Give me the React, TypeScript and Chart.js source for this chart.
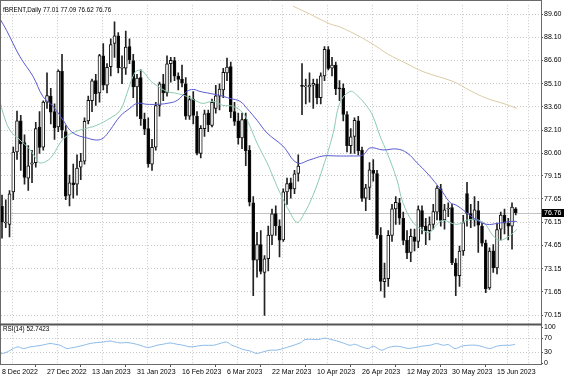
import React, { useEffect, useRef } from "react";
import { Chart, registerables } from "chart.js";
Chart.register(...registerables);

const symbolTitle = "fBRENT,Daily";
const rsiTitle = "RSI(14) 52.7423";

const dateLabels = ["8 Dec 2022", "27 Dec 2022", "13 Jan 2023", "31 Jan 2023", "16 Feb 2023", "6 Mar 2023", "22 Mar 2023", "10 Apr 2023", "26 Apr 2023", "12 May 2023", "30 May 2023", "15 Jun 2023"];
const dateLabelIdx = [0, 12, 24, 36, 48, 60, 72, 84, 96, 108, 120, 132];
const gridIdx = [5.6, 17.6, 29.6, 41.6, 53.6, 65.6, 77.6, 89.6, 101.6, 113.6, 125.6, 137.6];

const priceTicks = [89.6, 88.1, 86.6, 85.1, 83.6, 82.1, 80.6, 79.15, 77.65, 76.15, 74.65, 73.15, 71.65, 70.15];
const rsiTicks = [100, 70, 30, 0];

const opens = [77.17, 76.1, 76.0, 78.1, 80.7, 82.7, 81.3, 79.0, 79.9, 80.0, 82.3, 81.0, 83.9, 84.3, 83.3, 82.3, 85.9, 82.0, 77.9, 78.7, 78.6, 79.7, 80.1, 82.7, 84.0, 85.3, 84.5, 86.9, 85.0, 86.2, 87.7, 88.2, 86.1, 86.1, 87.5, 86.6, 84.9, 85.5, 82.8, 82.2, 79.9, 81.0, 83.7, 85.1, 84.5, 86.4, 86.6, 85.6, 85.4, 85.1, 83.0, 84.1, 83.0, 80.6, 82.2, 83.2, 82.4, 83.5, 84.3, 84.7, 85.8, 86.2, 83.3, 82.7, 81.6, 82.8, 80.8, 77.4, 73.7, 74.7, 72.9, 73.8, 75.3, 76.7, 75.9, 75.0, 78.1, 78.7, 78.3, 79.3, 85.0, 84.9, 84.9, 85.0, 85.1, 84.2, 85.6, 87.3, 86.1, 86.3, 84.8, 84.8, 83.1, 81.1, 81.7, 82.7, 80.8, 77.7, 78.4, 79.5, 79.3, 75.3, 72.3, 72.5, 75.3, 77.0, 77.4, 76.4, 75.0, 74.2, 75.2, 74.9, 76.9, 75.9, 75.6, 76.0, 76.8, 78.3, 76.3, 77.0, 77.1, 73.5, 72.7, 74.3, 78.0, 76.7, 76.3, 76.9, 75.9, 74.8, 71.9, 74.3, 73.2, 75.7, 76.6, 76.1, 75.9, 77.01];
const highs = [77.9, 77.6, 78.2, 81.0, 83.33, 83.05, 81.8, 81.1, 80.8, 82.6, 83.3, 84.0, 85.8, 84.8, 83.8, 86.0, 87.0, 82.4, 79.2, 79.9, 80.5, 80.6, 82.9, 84.3, 85.4, 85.7, 87.0, 87.7, 86.4, 88.0, 89.1, 88.4, 86.9, 88.5, 88.0, 87.0, 85.7, 86.0, 83.2, 82.9, 81.5, 83.9, 85.2, 85.7, 86.9, 86.8, 86.8, 85.8, 86.3, 85.5, 84.3, 84.6, 83.3, 82.4, 83.4, 83.4, 84.1, 85.0, 85.1, 86.1, 86.75, 86.5, 83.9, 83.2, 83.2, 83.2, 81.1, 77.8, 75.5, 75.6, 74.0, 75.9, 77.0, 77.2, 76.3, 78.3, 79.0, 79.0, 79.5, 80.5, 86.4, 85.4, 85.8, 85.4, 85.4, 85.8, 87.5, 87.5, 86.8, 86.5, 85.3, 85.1, 83.3, 82.2, 82.9, 83.0, 81.0, 78.6, 80.0, 80.2, 79.5, 75.8, 73.5, 75.6, 77.3, 77.8, 77.7, 76.8, 75.6, 75.7, 75.7, 77.2, 77.2, 76.4, 76.5, 77.3, 78.5, 78.6, 77.3, 77.4, 77.3, 73.8, 74.6, 76.6, 78.73, 77.3, 77.8, 77.5, 76.1, 75.0, 74.5, 74.7, 76.1, 76.8, 77.0, 76.4, 77.4, 77.09];
const lows = [75.11, 75.8, 75.2, 77.6, 80.2, 79.5, 78.6, 78.2, 78.7, 79.7, 80.6, 80.8, 83.5, 82.5, 81.5, 82.0, 81.6, 77.6, 77.2, 77.7, 77.9, 78.9, 79.9, 82.5, 83.3, 83.7, 83.9, 84.7, 84.5, 85.6, 86.8, 85.8, 85.1, 85.7, 86.4, 84.2, 83.0, 82.4, 81.8, 79.7, 79.5, 80.8, 83.0, 84.0, 84.3, 85.2, 85.3, 84.7, 84.9, 82.8, 82.8, 82.5, 80.5, 80.3, 81.7, 82.0, 82.3, 83.2, 83.4, 84.2, 85.3, 82.9, 82.4, 81.2, 80.9, 79.8, 77.2, 71.4, 72.6, 72.8, 70.12, 73.0, 74.7, 75.3, 73.9, 74.9, 77.3, 77.7, 78.0, 78.8, 83.1, 83.8, 83.9, 83.5, 83.8, 83.8, 85.3, 86.0, 85.6, 84.4, 84.0, 82.7, 80.7, 80.6, 80.6, 80.5, 77.5, 76.9, 77.6, 78.8, 75.1, 71.7, 71.28, 72.0, 74.9, 76.0, 76.0, 74.7, 73.8, 73.6, 74.3, 74.5, 75.4, 74.7, 75.0, 75.7, 76.3, 75.9, 75.7, 76.5, 73.4, 71.4, 72.0, 74.0, 75.9, 75.8, 75.9, 74.2, 74.6, 71.6, 71.8, 72.9, 72.8, 75.0, 75.4, 75.0, 74.4, 76.62];
const closes = [76.15, 76.1, 77.99, 80.68, 82.7, 81.21, 79.04, 79.8, 79.99, 82.2, 80.98, 83.92, 84.33, 83.26, 82.26, 85.91, 82.1, 77.84, 78.69, 78.57, 79.65, 80.1, 82.67, 84.03, 85.28, 84.46, 86.92, 85.0, 86.16, 87.63, 88.19, 86.13, 86.12, 87.47, 86.66, 84.9, 85.46, 82.84, 82.17, 79.94, 80.99, 83.69, 85.09, 84.5, 86.39, 86.61, 85.58, 85.38, 85.14, 83.0, 84.07, 83.05, 80.6, 82.21, 83.16, 82.45, 83.89, 84.31, 84.75, 85.83, 86.18, 83.29, 82.66, 81.59, 82.78, 80.77, 77.45, 73.69, 74.7, 72.97, 73.79, 75.32, 76.69, 75.91, 74.99, 78.12, 78.65, 78.28, 79.27, 79.77, 84.93, 84.94, 84.99, 85.12, 84.18, 85.61, 87.33, 86.09, 86.31, 84.76, 84.77, 83.12, 81.1, 81.66, 82.73, 80.77, 77.69, 78.37, 79.54, 79.31, 75.32, 72.33, 72.5, 75.3, 77.01, 77.44, 76.41, 74.98, 74.17, 75.23, 74.91, 76.96, 75.86, 75.58, 75.99, 76.84, 78.36, 76.26, 76.95, 77.07, 73.54, 72.66, 74.28, 76.13, 76.71, 76.29, 76.95, 75.96, 74.79, 71.84, 74.29, 73.2, 75.67, 76.61, 76.09, 75.9, 77.12, 76.76];

// moving averages and RSI (bar index, value)
const maFastIdx = [-0.5, 0.3, 2.1, 4.8, 7.5, 9.3, 10.1, 12, 13.6, 15.5, 17.3, 20, 22.7, 25.3, 28.8, 31.5, 33.3, 34.9, 36, 37.6, 39.5, 41.3, 44, 46.7, 49.3, 52, 53.6, 56.3, 58.9, 61.6, 64.3, 66.1, 68, 70.7, 71.5, 74.1, 76.8, 78.7, 80.3, 82.9, 85.6, 88.3, 90.1, 92.8, 94.7, 97.3, 98.9, 100.8, 102.7, 105.3, 106.9, 109.6, 112.3, 114.1, 116, 117.6, 121.3, 124.8, 128.3, 130.9, 132.7, 135.5, 137.3];
const maFastVal = [83.96, 83.19, 82.1, 81.46, 80.82, 80.18, 79.98, 80.11, 80.5, 81.27, 81.72, 82.04, 82.23, 82.42, 82.87, 83.38, 84.47, 85.56, 85.95, 85.88, 85.31, 84.98, 84.6, 84.47, 84.28, 83.96, 83.83, 83.96, 83.7, 83.64, 83.19, 82.36, 81.27, 79.98, 79.54, 78.06, 76.78, 76.14, 76.59, 77.87, 79.7, 81.9, 83.85, 84.6, 84.34, 83.64, 83.0, 81.72, 80.63, 78.9, 77.42, 76.14, 75.63, 75.5, 76.01, 76.27, 76.01, 76.33, 76.14, 75.3, 74.98, 75.3, 75.69];
const maMidIdx = [-0.5, 1.25, 4.8, 8.3, 10.9, 13.6, 16.3, 18.1, 20, 22.7, 25.3, 27, 28.8, 31.5, 34.1, 36, 38.7, 41.3, 44, 46.7, 49.3, 51, 52.8, 55.5, 58.1, 60.8, 63.5, 65.3, 68, 70.7, 74.9, 78.7, 82.1, 85.6, 89.3, 92.8, 96.3, 98.1, 101.6, 105.3, 108, 110.7, 113.3, 116, 117.6, 119.5, 121.3, 124.8, 126.7, 129.3, 132, 135.5, 137.3];
const maMidVal = [89.28, 88.53, 86.84, 85.56, 84.28, 83.64, 82.74, 82.1, 81.78, 81.59, 81.46, 81.59, 82.1, 83.0, 83.51, 83.83, 83.77, 83.77, 83.83, 84.02, 84.6, 84.73, 84.6, 84.47, 84.34, 84.15, 83.96, 83.51, 82.74, 81.91, 81.07, 79.98, 80.18, 80.43, 80.43, 80.43, 80.5, 80.95, 80.82, 80.88, 80.63, 79.98, 79.34, 78.57, 78.06, 77.42, 77.23, 76.59, 76.27, 76.01, 76.07, 76.2, 76.2];
const maSlowIdx = [77.6, 82.1, 87.5, 90.1, 95.5, 100, 102.7, 108, 112.3, 120.3, 124.8, 129.3, 133.6, 137.3];
const maSlowVal = [90.11, 89.6, 88.96, 88.77, 88.13, 87.48, 87.04, 86.39, 85.88, 85.24, 84.66, 84.15, 83.83, 83.51];
const rsiIdx = [-0.5, 1.3, 3, 4.3, 5.7, 7.5, 9.3, 11, 12.8, 14.1, 15.5, 17.3, 18.6, 19.9, 21.7, 23.5, 25.3, 27, 28.8, 30.1, 31.5, 33.3, 35, 36.8, 38.6, 39.9, 41.3, 43, 44.8, 46.6, 48.3, 50.1, 51.9, 53.7, 56.4, 58.1, 59.9, 61.3, 62.6, 64.3, 66.1, 67.9, 69.7, 71.5, 73.3, 75, 76.8, 79.5, 80.8, 82.6, 84.4, 86.1, 87.5, 89.3, 91, 92.8, 94.1, 95.9, 97.7, 99, 101.2, 103, 104.8, 106.6, 108.3, 110.1, 111.9, 114.1, 115.9, 117.7, 119, 120.8, 122.6, 124.3, 126.6, 128.3, 130.1, 131.9, 133.7, 135.5, 136.8];
const rsiVal = [25.5, 31, 41, 45.5, 41, 45.5, 48, 51, 55, 53, 50, 41, 43, 45.5, 50, 55, 57.5, 59, 62, 59, 56.5, 57.5, 55, 50, 44, 45.5, 50, 53, 56.5, 53, 50, 45.5, 47.5, 50, 50, 55, 59, 50, 45.5, 38, 34.5, 27.4, 32, 36.5, 36.5, 41, 47, 56.4, 65.7, 66.6, 65.7, 70.1, 66.6, 62, 56.4, 50, 52.9, 45.5, 41, 47.4, 36.4, 43.8, 47.4, 45.5, 41, 43.8, 47.4, 50, 54.8, 50, 52, 41, 47.4, 50, 50, 45.5, 41, 47.4, 50, 50, 52.9];

const FONT = "Liberation Sans";
const FS = 7;
const TITLE_FS = 6.3;

const pts = (xs: number[], ys: number[]) => xs.map((x, i) => ({ x, y: ys[i] }));

export default function App() {
  const ref = useRef<HTMLCanvasElement>(null);
  useEffect(() => {
    const canvas = ref.current!;
    const n = closes.length;
    const last = n - 1;
    const bars = closes.map((_, i) => i);

    const framePlugin = {
      id: "frame",
      beforeDatasetsDraw(chart: any) {
        const { ctx, chartArea, scales } = chart;
        const yb = Math.round(scales.y.getPixelForValue(closes[last])) + 0.5;
        ctx.save();
        ctx.strokeStyle = "#c4c4c4";
        ctx.lineWidth = 1;
        ctx.beginPath();
        ctx.moveTo(chartArea.left, yb);
        ctx.lineTo(chartArea.right, yb);
        ctx.stroke();
        ctx.restore();
      },
      afterDraw(chart: any) {
        const { ctx, chartArea, scales } = chart;
        const { left, right, top, bottom } = chartArea;
        const sep = scales.y.bottom;
        ctx.save();
        ctx.strokeStyle = "#6a6a6a";
        ctx.lineWidth = 1;
        ctx.beginPath();
        ctx.moveTo(0.5, 0);
        ctx.lineTo(0.5, bottom);
        ctx.moveTo(0, 0.5);
        ctx.lineTo(right, 0.5);
        ctx.moveTo(right + 0.5, 0);
        ctx.lineTo(right + 0.5, bottom + 1);
        ctx.moveTo(0, bottom + 0.5);
        ctx.lineTo(right, bottom + 0.5);
        ctx.stroke();
        ctx.lineWidth = 2;
        ctx.strokeStyle = "#555";
        ctx.beginPath();
        ctx.moveTo(0, sep);
        ctx.lineTo(right + 1, sep);
        ctx.stroke();
        // titles
        ctx.fillStyle = "#000";
        ctx.font = `${TITLE_FS}px "${FONT}"`;
        ctx.textBaseline = "top";
        ctx.textAlign = "left";
        const ohlc = [opens[last], highs[last], lows[last], closes[last]].map((v) => v.toFixed(2)).join(" ");
        ctx.fillText(`${symbolTitle} ${ohlc}`, left + 2, top + 2);
        ctx.fillText(rsiTitle, left + 2, sep + 2);
        // price tag
        ctx.font = `${FS}px "${FONT}"`;
        const yp = scales.y.getPixelForValue(closes[last]);
        ctx.fillStyle = "#000";
        ctx.fillRect(right + 1, Math.round(yp) - 4, 22, 8);
        ctx.fillStyle = "#fff";
        ctx.textBaseline = "middle";
        ctx.fillText(closes[last].toFixed(2), right + 3, Math.round(yp));
        ctx.restore();
      },
    };

    const tickFont = { family: FONT, size: FS };
    const chart = new Chart(canvas, {
      type: "bar",
      data: {
        datasets: [
          {
            type: "line",
            label: "MA slow",
            data: pts(maSlowIdx, maSlowVal),
            borderColor: "#dccaa4",
            borderWidth: 1,
            pointRadius: 0,
            tension: 0.4,
            yAxisID: "y",
            order: 0,
          } as any,
          {
            type: "line",
            label: "MA mid",
            data: pts(maMidIdx, maMidVal),
            borderColor: "#5a5ad0",
            borderWidth: 1,
            pointRadius: 0,
            tension: 0.4,
            yAxisID: "y",
            order: 0,
          },
          {
            type: "line",
            label: "MA fast",
            data: pts(maFastIdx, maFastVal),
            borderColor: "#8ccbb0",
            borderWidth: 1,
            pointRadius: 0,
            tension: 0.4,
            yAxisID: "y",
            order: 0,
          },
          {
            type: "line",
            label: "RSI",
            data: pts(rsiIdx, rsiVal),
            borderColor: "#8cbbe8",
            borderWidth: 1,
            pointRadius: 0,
            tension: 0.3,
            yAxisID: "rsi",
            order: 0,
          },
          {
            type: "bar",
            label: "bodies",
            data: bars.map((i) => ({ x: i, y: [opens[i], closes[i]] })),
            backgroundColor: (c: any) => (closes[c.dataIndex] >= opens[c.dataIndex] ? "#ffffff" : "#000000"),
            borderColor: "#111",
            borderWidth: 1,
            borderSkipped: false,
            barThickness: 3,
            minBarLength: 1,
            grouped: false,
            yAxisID: "y",
            order: 1,
          },
          {
            type: "bar",
            label: "wicks",
            data: bars.map((i) => ({ x: i, y: [lows[i], highs[i]] })),
            backgroundColor: "#222",
            barThickness: 1,
            grouped: false,
            yAxisID: "y",
            order: 2,
          },
        ],
      },
      options: {
        responsive: false,
        animation: false,
        devicePixelRatio: 1,
        layout: { padding: { top: 1, left: 1, right: 0, bottom: 0 } },
        plugins: { legend: { display: false }, tooltip: { enabled: false }, title: { display: false } },
        scales: {
          x: {
            type: "linear",
            min: -0.27,
            max: 143.73,
            offset: false,
            afterBuildTicks: (s: any) => {
              s.ticks = [...dateLabelIdx, ...gridIdx].sort((a, b) => a - b).map((v) => ({ value: v }));
            },
            afterFit: (s: any) => {
              s.height = 12;
            },
            ticks: {
              autoSkip: false,
              maxRotation: 0,
              align: "start",
              padding: 1,
              font: tickFont,
              color: "#000",
              callback: (v: any) => {
                const k = dateLabelIdx.indexOf(v);
                return k >= 0 ? dateLabels[k] : "";
              },
            },
            grid: {
              drawTicks: true,
              tickLength: 3,
              lineWidth: 1,
              color: (c: any) => (c.tick && dateLabelIdx.indexOf(c.tick.value) >= 0 ? "rgba(0,0,0,0)" : "#c8c8c8"),
              tickColor: (c: any) => (c.tick && dateLabelIdx.indexOf(c.tick.value) >= 0 ? "#555" : "rgba(0,0,0,0)"),
            },
            border: { display: false, dash: [1, 2] },
          },
          y: {
            type: "linear",
            position: "right",
            stack: "v",
            stackWeight: 323,
            min: 69.54,
            max: 90.175,
            afterBuildTicks: (s: any) => {
              s.ticks = priceTicks.map((v) => ({ value: v }));
            },
            afterFit: (s: any) => {
              s.width = 23;
            },
            ticks: {
              autoSkip: false,
              padding: 1,
              font: tickFont,
              color: "#000",
              callback: (v: any) => Number(v).toFixed(2),
            },
            grid: { color: "#c8c8c8", lineWidth: 1, drawTicks: true, tickLength: 2, tickColor: "#555" },
            border: { display: false, dash: [1, 2] },
          },
          rsi: {
            type: "linear",
            position: "right",
            stack: "v",
            stackWeight: 40,
            min: -1.9,
            max: 107.7,
            afterBuildTicks: (s: any) => {
              s.ticks = rsiTicks.map((v) => ({ value: v }));
            },
            afterFit: (s: any) => {
              s.width = 23;
            },
            ticks: { autoSkip: false, padding: 1, font: tickFont, color: "#000", callback: (v: any) => String(v) },
            grid: {
              color: (c: any) => (c.tick && (c.tick.value === 70 || c.tick.value === 30) ? "#c8c8c8" : "rgba(0,0,0,0)"),
              lineWidth: 1,
              drawTicks: true,
              tickLength: 2,
              tickColor: "#555",
            },
            border: { display: false, dash: [1, 2] },
          },
        },
      } as any,
      plugins: [framePlugin],
    });
    return () => chart.destroy();
  }, []);
  return (
    <div style={{ position: "absolute", left: 0, top: 0, width: 564, height: 376, background: "#fff" }}>
      <canvas ref={ref} width={564} height={376} style={{ display: "block" }} />
    </div>
  );
}
